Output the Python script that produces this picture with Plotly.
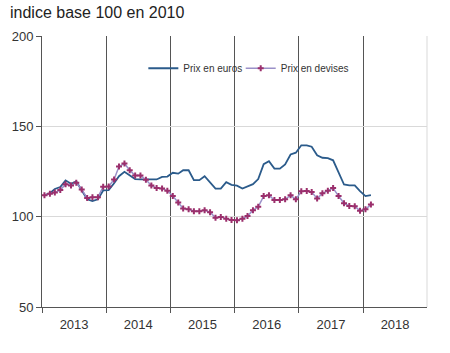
import plotly.graph_objects as go

# Monthly data, Jan 2013 - Feb 2018
months = [f"{y}-{m:02d}-15" for y in range(2013, 2019) for m in range(1, 13)][:62]

prix_euros = [
    111.8, 113.0, 115.3, 116.4, 120.1, 118.2, 119.5, 114.7, 109.6, 108.6, 109.6, 114.5,
    114.7, 118.5, 122.4, 124.8, 122.8, 120.8, 120.6, 120.6, 120.6, 120.6, 122.0, 122.2,
    124.3, 123.8, 125.7, 125.7, 120.2, 120.2, 122.4, 118.8, 115.5, 115.5, 119.1, 117.6,
    117.2, 115.6, 116.9, 118.0, 120.8, 129.1, 130.7, 126.6, 126.6, 128.9, 134.4, 135.4,
    139.5, 139.5, 138.7, 134.0, 132.6, 132.4, 131.2, 124.3, 117.8, 117.3, 117.3, 114.1,
    111.4, 111.9,
]

prix_devises = [
    111.9, 112.7, 113.4, 114.7, 118.0, 117.3, 118.8, 115.1, 110.3, 110.8, 110.8, 116.6,
    116.7, 120.6, 127.8, 129.4, 125.7, 122.8, 122.8, 120.4, 117.3, 115.8, 115.6, 114.3,
    111.4, 107.8, 104.5, 104.1, 103.0, 103.0, 103.5, 102.5, 99.4, 99.8, 98.9, 98.1,
    98.0, 98.9, 100.3, 103.5, 105.5, 111.4, 111.8, 109.2, 109.2, 109.6, 111.8, 109.6,
    114.0, 114.2, 113.6, 110.1, 112.9, 114.4, 115.8, 111.4, 107.4, 105.9, 105.7, 103.3,
    104.1, 106.7,
]

y_ticks = [50, 100, 150, 200]
title_text = "indice base 100 en 2010"
font_family = "Liberation Sans, Arial, sans-serif"

fig = go.Figure()
fig.add_trace(go.Scatter(
    x=months, y=prix_euros, name="Prix en euros", mode="lines",
    line=dict(color="#2b5b8b", width=1.8), legend="legend",
))
fig.add_trace(go.Scatter(
    x=months, y=prix_devises, name="Prix en devises", mode="lines+markers",
    line=dict(color="#9a90c8", width=1.5),
    marker=dict(symbol="cross", size=5, color="#9b2f6c", line=dict(width=0)),
    legend="legend2",
))

# white legend box covering the year gridlines
fig.add_shape(type="rect", xref="paper", yref="paper",
              x0=(145 - 39) / 387.5, x1=(352 - 39) / 387.5,
              y0=(307.3 - 85) / 271.6, y1=(307.3 - 48) / 271.6,
              fillcolor="white", line=dict(width=0), layer="between")
# light right frame line
fig.add_shape(type="line", xref="paper", yref="paper", x0=1, x1=1, y0=0, y1=1,
              line=dict(color="#d9d9d9", width=1), layer="below")

legend_common = dict(orientation="h", xanchor="left",
                     y=(307.3 - 68) / 271.6, yanchor="middle",
                     bgcolor="rgba(0,0,0,0)", font=dict(size=10, color="#333333"))

fig.update_layout(
    width=450, height=353,
    margin=dict(l=39, r=23, t=36, b=46),
    paper_bgcolor="white", plot_bgcolor="white",
    font=dict(family=font_family, color="#333333", size=13),
    title=dict(text=title_text, x=10 / 450, xref="container", xanchor="left",
               y=1 - 12 / 353, yref="container", yanchor="middle",
               font=dict(size=16, color="#222222", family=font_family)),
    showlegend=True,
    legend=dict(x=(141 - 39) / 387.5, **legend_common),
    legend2=dict(x=(239 - 39) / 387.5, **legend_common),
    xaxis=dict(
        type="date", range=["2013-01-01", "2018-12-31"],
        dtick="M12", tick0="2013-01-01", tickformat="%Y", ticklabelmode="period",
        showgrid=True, gridcolor="#555555", gridwidth=1,
        showline=True, linecolor="#555555", linewidth=1,
        ticks="outside", ticklen=5, tickcolor="#555555",
        tickfont=dict(size=13, color="#333333"),
        zeroline=False, fixedrange=True,
    ),
    yaxis=dict(
        range=[50, 200], tickvals=y_ticks,
        showgrid=True, gridcolor="#d9d9d9", gridwidth=1,
        showline=True, linecolor="#555555", linewidth=1,
        ticks="outside", ticklen=5, tickcolor="#555555",
        tickfont=dict(size=13, color="#333333"),
        zeroline=False, fixedrange=True,
    ),
)

fig.write_html("out.html")
